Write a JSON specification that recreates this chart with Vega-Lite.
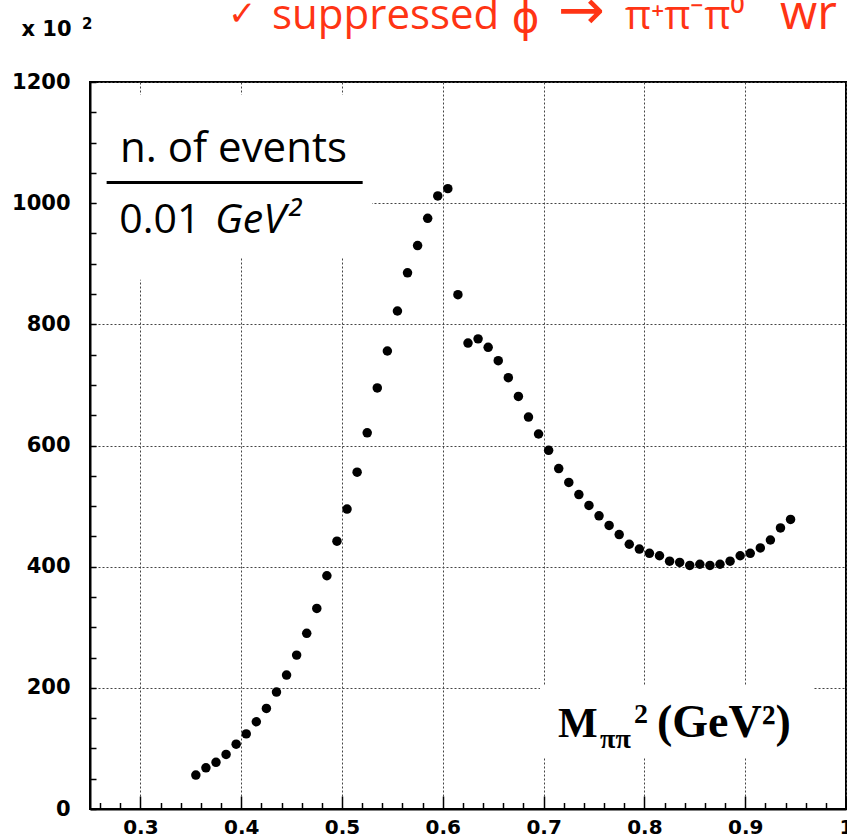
{
  "$schema": "https://vega.github.io/schema/vega-lite/v6.json",
  "autosize": {"type": "none"},
  "width": 756,
  "height": 727,
  "padding": {"left": 90, "top": 82, "right": 1, "bottom": 28},
  "background": "white",
  "config": {"view": {"stroke": "black", "strokeWidth": 2}},
  "data": {"values": [
    {"m2": 0.355, "n": 56}, {"m2": 0.365, "n": 68}, {"m2": 0.375, "n": 77}, {"m2": 0.385, "n": 90},
    {"m2": 0.395, "n": 107}, {"m2": 0.405, "n": 124}, {"m2": 0.415, "n": 144}, {"m2": 0.425, "n": 166},
    {"m2": 0.435, "n": 193}, {"m2": 0.445, "n": 221}, {"m2": 0.455, "n": 254}, {"m2": 0.465, "n": 290},
    {"m2": 0.475, "n": 331}, {"m2": 0.485, "n": 385}, {"m2": 0.495, "n": 442}, {"m2": 0.505, "n": 495},
    {"m2": 0.515, "n": 556}, {"m2": 0.525, "n": 621}, {"m2": 0.535, "n": 695}, {"m2": 0.545, "n": 756},
    {"m2": 0.555, "n": 822}, {"m2": 0.565, "n": 885}, {"m2": 0.575, "n": 930}, {"m2": 0.585, "n": 975},
    {"m2": 0.595, "n": 1012}, {"m2": 0.605, "n": 1024}, {"m2": 0.615, "n": 849}, {"m2": 0.625, "n": 769},
    {"m2": 0.635, "n": 776}, {"m2": 0.645, "n": 762}, {"m2": 0.655, "n": 740}, {"m2": 0.665, "n": 712},
    {"m2": 0.675, "n": 681}, {"m2": 0.685, "n": 647}, {"m2": 0.695, "n": 619}, {"m2": 0.705, "n": 592},
    {"m2": 0.715, "n": 562}, {"m2": 0.725, "n": 539}, {"m2": 0.735, "n": 519}, {"m2": 0.745, "n": 501},
    {"m2": 0.755, "n": 484}, {"m2": 0.765, "n": 468}, {"m2": 0.775, "n": 453}, {"m2": 0.785, "n": 437},
    {"m2": 0.795, "n": 429}, {"m2": 0.805, "n": 422}, {"m2": 0.815, "n": 418}, {"m2": 0.825, "n": 409},
    {"m2": 0.835, "n": 407}, {"m2": 0.845, "n": 402}, {"m2": 0.855, "n": 404}, {"m2": 0.865, "n": 402},
    {"m2": 0.875, "n": 404}, {"m2": 0.885, "n": 409}, {"m2": 0.895, "n": 418}, {"m2": 0.905, "n": 422},
    {"m2": 0.915, "n": 431}, {"m2": 0.925, "n": 444}, {"m2": 0.935, "n": 464}, {"m2": 0.945, "n": 478}
  ]},
  "layer": [
    {
      "data": {"values": [{}]},
      "mark": {"type": "rect", "color": "white", "opacity": 1},
      "encoding": {
        "x": {"datum": 0.2575}, "x2": {"datum": 0.5298},
        "y": {"datum": 1178.8}, "y2": {"datum": 911.3}
      }
    },
    {
      "mark": {"type": "circle", "color": "black", "opacity": 1, "size": 90},
      "encoding": {
        "x": {
          "field": "m2", "type": "quantitative",
          "scale": {"domain": [0.25, 1.0], "nice": false, "zero": false},
          "axis": {
            "title": null,
            "tickCount": 200,
            "values": [0.26,0.28,0.3,0.32,0.34,0.36,0.38,0.4,0.42,0.44,0.46,0.48,0.5,0.52,0.54,0.56,0.58,0.6,0.62,0.64,0.66,0.68,0.7,0.72,0.74,0.76,0.78,0.8,0.82,0.84,0.86,0.88,0.9,0.92,0.94,0.96,0.98,1.0],
            "format": ".1~f",
            "labelExpr": "round(datum.value*100) % 10 == 0 ? datum.label : ''",
            "labelFont": "DejaVu Sans", "labelFontWeight": "bold", "labelFontSize": 20, "labelColor": "black",
            "labelBaseline": "top", "labelPadding": 21, "labelOverlap": false, "labelFlush": false, "labelBound": false,
            "tickSize": {"condition": {"test": "round(datum.value*100) % 10 == 0", "value": -13}, "value": -6.5},
            "tickColor": "black", "tickWidth": 1.5,
            "domainColor": "black", "domainWidth": 2,
            "grid": true, "gridDash": [2, 2], "gridColor": "#444", "gridWidth": 1,
            "gridOpacity": {"condition": {"test": "round(datum.value*100) % 10 == 0", "value": 1}, "value": 0}
          }
        },
        "y": {
          "field": "n", "type": "quantitative",
          "scale": {"domain": [0, 1200], "nice": false},
          "axis": {
            "title": "x 10",
            "titleAngle": 0, "titleX": -69, "titleY": -47, "titleAlign": "left", "titleBaseline": "alphabetic",
            "titleFont": "DejaVu Sans", "titleFontWeight": "bold", "titleFontSize": 21, "titleColor": "black",
            "tickCount": 200,
            "values": [0,50,100,150,200,250,300,350,400,450,500,550,600,650,700,750,800,850,900,950,1000,1050,1100,1150,1200],
            "format": "d",
            "labelExpr": "datum.value % 200 == 0 ? datum.label : ''",
            "labelFont": "DejaVu Sans", "labelFontWeight": "bold", "labelFontSize": 21, "labelColor": "black",
            "labelBaseline": "middle", "labelAlign": "right", "labelPadding": 26, "labelOverlap": false, "labelFlush": false, "labelBound": false,
            "tickSize": -6, "tickColor": "black", "tickWidth": 1.5,
            "domainColor": "black", "domainWidth": 2,
            "grid": true, "gridDash": [2, 2], "gridColor": "#444", "gridWidth": 1,
            "gridOpacity": {"condition": {"test": "datum.value % 200 == 0", "value": 1}, "value": 0}
          }
        }
      }
    },
    {
      "data": {"values": [{}]},
      "mark": {"type": "rect", "color": "white", "opacity": 1},
      "encoding": {
        "x": {"datum": 0.2575}, "x2": {"datum": 0.35},
        "y": {"datum": 911.3}, "y2": {"datum": 873.4}
      }
    },
    {
      "data": {"values": [{}]},
      "mark": {"type": "rect", "color": "white", "opacity": 1},
      "encoding": {
        "x": {"datum": 0.6964}, "x2": {"datum": 0.9673},
        "y": {"datum": 203}, "y2": {"datum": 84}
      }
    },
    {
      "data": {"values": [{}]},
      "mark": {"type": "rule", "color": "black", "strokeWidth": 3},
      "encoding": {
        "x": {"datum": 0.2665}, "x2": {"datum": 0.5205},
        "y": {"datum": 1034}
      }
    },
    {
      "data": {"values": [{}]},
      "mark": {"type": "text", "text": "2", "font": "DejaVu Sans", "fontWeight": "bold", "fontSize": 15, "color": "black", "align": "left", "baseline": "alphabetic"},
      "encoding": {"x": {"datum": 0.2421}, "y": {"datum": 1287}}
    },
    {
      "data": {"values": [{}]},
      "mark": {"type": "text", "text": "n. of events", "font": "Open Sans", "fontSize": 42, "color": "black", "align": "left", "baseline": "alphabetic"},
      "encoding": {"x": {"datum": 0.2798}, "y": {"datum": 1068.7}}
    },
    {
      "data": {"values": [{}]},
      "mark": {"type": "text", "text": "0.01", "font": "Open Sans", "fontSize": 41, "color": "black", "align": "left", "baseline": "alphabetic"},
      "encoding": {"x": {"datum": 0.2791}, "y": {"datum": 951}}
    },
    {
      "data": {"values": [{}]},
      "mark": {"type": "text", "text": "GeV²", "font": "Open Sans", "fontStyle": "italic", "fontSize": 41, "color": "black", "align": "left", "baseline": "alphabetic"},
      "encoding": {"x": {"datum": 0.374}, "y": {"datum": 951}}
    },
    {
      "data": {"values": [{}]},
      "mark": {"type": "text", "text": "M", "font": "Liberation Serif", "fontWeight": "bold", "fontSize": 42, "color": "black", "align": "left", "baseline": "alphabetic"},
      "encoding": {"x": {"datum": 0.7143}, "y": {"datum": 118.9}}
    },
    {
      "data": {"values": [{}]},
      "mark": {"type": "text", "text": "ππ", "font": "Liberation Serif", "fontWeight": "bold", "fontSize": 28, "color": "black", "align": "left", "baseline": "alphabetic"},
      "encoding": {"x": {"datum": 0.756}, "y": {"datum": 100.7}}
    },
    {
      "data": {"values": [{}]},
      "mark": {"type": "text", "text": "2", "font": "Liberation Serif", "fontWeight": "bold", "fontSize": 28, "color": "black", "align": "left", "baseline": "alphabetic"},
      "encoding": {"x": {"datum": 0.7897}, "y": {"datum": 142}}
    },
    {
      "data": {"values": [{}]},
      "mark": {"type": "text", "text": "(GeV²)", "font": "Liberation Serif", "fontWeight": "bold", "fontSize": 46, "color": "black", "align": "left", "baseline": "alphabetic"},
      "encoding": {"x": {"datum": 0.8125}, "y": {"datum": 118.9}}
    },
    {
      "data": {"values": [{}]},
      "mark": {"type": "text", "text": "✓", "font": "DejaVu Sans", "fontSize": 34, "color": "#ff3414", "align": "left", "baseline": "alphabetic"},
      "encoding": {"x": {"datum": 0.3869}, "y": {"datum": 1294}}
    },
    {
      "data": {"values": [{}]},
      "mark": {"type": "text", "text": "suppressed", "font": "Open Sans", "fontSize": 42, "color": "#ff3414", "align": "left", "baseline": "alphabetic"},
      "encoding": {"x": {"datum": 0.4306}, "y": {"datum": 1287.8}}
    },
    {
      "data": {"values": [{}]},
      "mark": {"type": "text", "text": "ϕ", "font": "DejaVu Sans", "fontSize": 42, "color": "#ff3414", "align": "left", "baseline": "alphabetic"},
      "encoding": {"x": {"datum": 0.6685}, "y": {"datum": 1283}}
    },
    {
      "data": {"values": [{}]},
      "mark": {"type": "text", "text": "→", "font": "DejaVu Sans", "fontSize": 56, "color": "#ff3414", "align": "left", "baseline": "alphabetic"},
      "encoding": {"x": {"datum": 0.7143}, "y": {"datum": 1287.8}}
    },
    {
      "data": {"values": [{}]},
      "mark": {"type": "text", "text": "π⁺π⁻π⁰", "font": "Open Sans", "fontSize": 40, "color": "#ff3414", "align": "left", "baseline": "alphabetic"},
      "encoding": {"x": {"datum": 0.7808}, "y": {"datum": 1287.8}}
    },
    {
      "data": {"values": [{}]},
      "mark": {"type": "text", "text": "wr", "font": "Open Sans", "fontSize": 48, "color": "#ff3414", "align": "left", "baseline": "alphabetic"},
      "encoding": {"x": {"datum": 0.9345}, "y": {"datum": 1287.8}}
    }
  ]
}
